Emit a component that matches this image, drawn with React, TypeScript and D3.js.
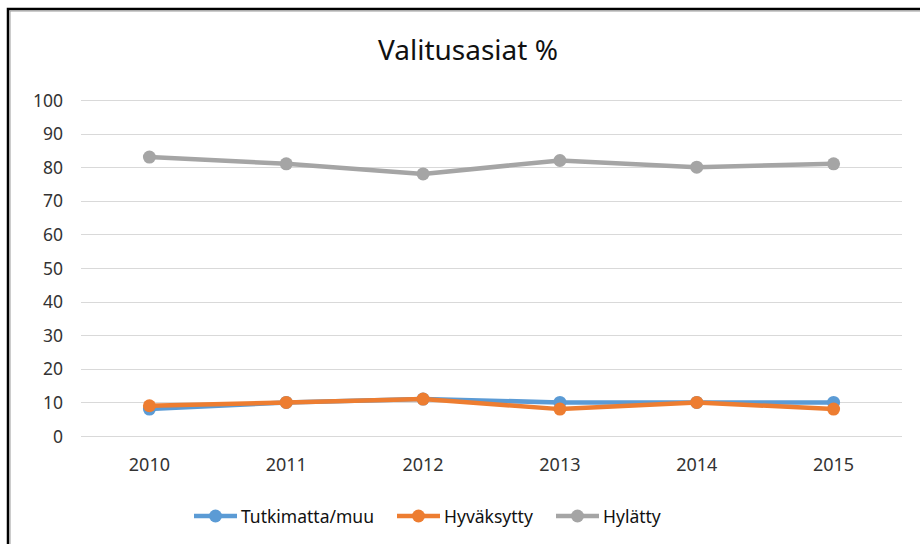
import * as d3 from 'd3';
import { useEffect, useRef } from 'react';

const years = ['2010', '2011', '2012', '2013', '2014', '2015'];
const tutkimatta = [8, 10, 11, 10, 10, 10];
const hyvaksytty = [9, 10, 11, 8, 10, 8];
const hylatty = [83, 81, 78, 82, 80, 81];
const yTicks = [0, 10, 20, 30, 40, 50, 60, 70, 80, 90, 100];

const series = [
  { name: 'Tutkimatta/muu', values: tutkimatta, color: '#5B9BD5' },
  { name: 'Hyväksytty', values: hyvaksytty, color: '#ED7D31' },
  { name: 'Hylätty', values: hylatty, color: '#A5A5A5' },
];

const W = 920;
const H = 544;
const FONT = "'Noto Sans', 'Open Sans', sans-serif";

export default function App() {
  const svgRef = useRef<SVGSVGElement>(null);

  useEffect(() => {
    if (!svgRef.current) return;
    const svg = d3.select(svgRef.current);
    svg.selectAll('*').remove();

    // chart frame (black outer edge, gray inner edge)
    svg.append('path')
      .attr('d', `M8,${H + 10} V9 H${W + 10}`)
      .attr('fill', 'none').attr('stroke', '#000').attr('stroke-width', 2.5);
    svg.append('path')
      .attr('d', `M10,${H + 10} V11 H${W + 10}`)
      .attr('fill', 'none').attr('stroke', '#9a9a9a').attr('stroke-width', 1);

    const x = d3.scaleBand().domain(years).range([81, 902]);
    const y = d3.scaleLinear().domain([0, 100]).range([436, 100]);

    // gridlines
    svg.append('g').selectAll('line')
      .data(yTicks).enter().append('line')
      .attr('x1', 81).attr('x2', 902)
      .attr('y1', d => Math.round(y(d)) + 0.5).attr('y2', d => Math.round(y(d)) + 0.5)
      .attr('stroke', '#D9D9D9').attr('stroke-width', 1);

    // y labels
    svg.append('g').selectAll('text')
      .data(yTicks).enter().append('text')
      .attr('x', 63).attr('y', d => y(d) + 6.5)
      .attr('text-anchor', 'end')
      .style('font-family', FONT).style('font-size', '17.5px').style('fill', '#333')
      .text(d => String(d));

    // x labels
    svg.append('g').selectAll('text')
      .data(years).enter().append('text')
      .attr('x', d => (x(d) || 0) + x.bandwidth() / 2).attr('y', 471)
      .attr('text-anchor', 'middle')
      .style('font-family', FONT).style('font-size', '18px').style('fill', '#333')
      .text(d => d);

    const cx = (i: number) => (x(years[i]) || 0) + x.bandwidth() / 2;
    const line = d3.line<number>().x((_, i) => cx(i)).y(d => y(d));

    series.forEach(s => {
      const g = svg.append('g');
      g.append('path')
        .attr('d', line(s.values) || '')
        .attr('fill', 'none').attr('stroke', s.color)
        .attr('stroke-width', 4.5).attr('stroke-linejoin', 'round');
      g.selectAll('circle')
        .data(s.values).enter().append('circle')
        .attr('cx', (_, i) => cx(i)).attr('cy', d => y(d))
        .attr('r', 6.5).attr('fill', s.color);
    });

    // title
    svg.append('text')
      .attr('x', 468).attr('y', 60)
      .attr('text-anchor', 'middle')
      .style('font-family', FONT).style('font-size', '28px').style('fill', '#111')
      .text('Valitusasiat %');

    // legend
    const legendX = [194, 397, 556];
    series.forEach((s, i) => {
      const lg = svg.append('g').attr('transform', `translate(${legendX[i]},516)`);
      lg.append('line').attr('x1', 0).attr('x2', 43).attr('y1', 0).attr('y2', 0)
        .attr('stroke', s.color).attr('stroke-width', 4.5);
      lg.append('circle').attr('cx', 21.5).attr('cy', 0).attr('r', 6.5).attr('fill', s.color);
      lg.append('text').attr('x', 47).attr('y', 6.5)
        .style('font-family', FONT).style('font-size', '17.5px').style('fill', '#111')
        .text(s.name);
    });
  }, []);

  return (
    <div style={{ position: 'fixed', left: 0, top: 0, width: W, height: H, background: '#fff' }}>
      <svg ref={svgRef} width={W} height={H} style={{ display: 'block' }}></svg>
    </div>
  );
}
